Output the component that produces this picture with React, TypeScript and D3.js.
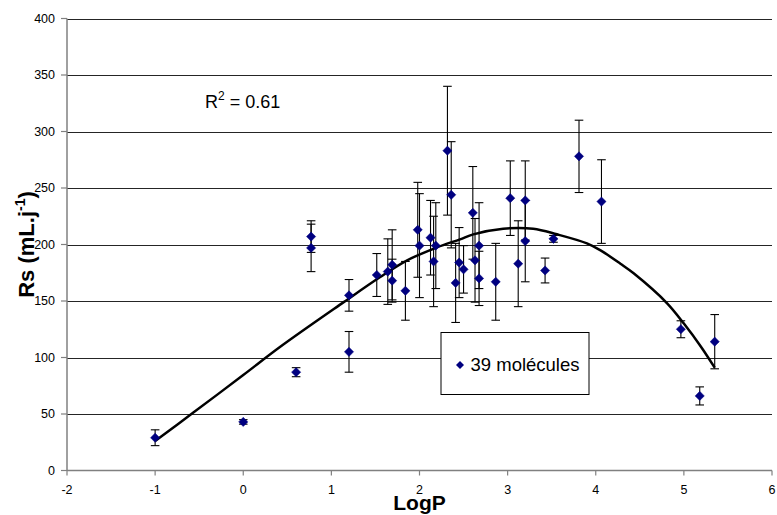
import React from "react";
import * as d3 from "d3";

const logP = [-1.0, 0.0, 0.6, 0.77, 0.77, 1.2, 1.2, 1.515, 1.64, 1.69, 1.69, 1.84, 1.98, 2.0, 2.125, 2.16, 2.185, 2.317, 2.36, 2.41, 2.45, 2.5, 2.605, 2.63, 2.676, 2.676, 2.865, 3.03, 3.12, 3.2, 3.2, 3.425, 3.52, 3.81, 4.065, 4.966, 5.18, 5.35];
const rsValues = [29, 43, 87, 207, 197, 155, 105, 173, 176, 182, 168, 159, 213, 199, 206, 185, 199, 283, 244, 166, 184, 178, 228, 186, 199, 170, 167, 241, 183, 239, 203, 177, 205, 278, 238, 125, 66, 114];
const rsErrors = [7, 2, 4, 14, 21, 14, 18, 19, 29, 31, 19, 26, 42, 46, 33, 40, 38, 57, 47, 35, 31, 21, 41, 37, 38, 24, 34, 33, 38, 35, 36, 11, 3, 32, 37, 7.5, 8, 24];

const trendX = [-1.0, -0.57, 0.0, 0.42, 1.14, 1.55, 1.86, 2.2, 2.46, 2.61, 2.95, 3.29, 3.56, 3.9, 4.05, 4.28, 4.43, 4.81, 5.0, 5.19, 5.35];
const trendY = [26, 51, 84.5, 109.5, 149, 171, 186, 197.5, 204.6, 209, 214, 214, 209, 201, 195, 183, 174.5, 148, 130, 110, 91];

const xTicks = [-2, -1, 0, 1, 2, 3, 4, 5, 6];
const yTicks = [0, 50, 100, 150, 200, 250, 300, 350, 400];

const FONT = "'Liberation Sans', Arial, Helvetica, sans-serif";

export default function App() {
  const W = 777, H = 515;
  const x = d3.scaleLinear().domain([-2, 6]).range([67, 772]);
  const y = d3.scaleLinear().domain([0, 400]).range([470.5, 18.5]);

  const line = d3
    .line<number>()
    .x((_, i) => x(trendX[i]))
    .y((d) => y(d))
    .curve(d3.curveCatmullRom.alpha(0.5));

  const diamond = (cx: number, cy: number, r: number) =>
    `M${cx},${cy - r}L${cx + r},${cy}L${cx},${cy + r}L${cx - r},${cy}Z`;

  const capW = 4.3;

  return (
    <div style={{ position: "absolute", left: 0, top: 0 }}>
      <svg width={W} height={H} style={{ display: "block", background: "#fff" }} fontFamily={FONT}>
        {/* gridlines */}
        {yTicks.filter((t) => t > 0).map((t) => (
          <line key={"g" + t} x1={x(-2)} x2={x(6)} y1={Math.round(y(t)) + 0.5} y2={Math.round(y(t)) + 0.5}
            stroke="#000" strokeWidth={1} opacity={0.85} />
        ))}
        {/* axes */}
        <line x1={x(-2)} x2={x(-2)} y1={y(400)} y2={y(0)} stroke="#808080" strokeWidth={1.5} />
        <line x1={x(-2)} x2={x(6)} y1={y(0)} y2={y(0)} stroke="#808080" strokeWidth={1.5} />
        {yTicks.map((t) => (
          <g key={"yt" + t}>
            <line x1={x(-2) - 6} x2={x(-2)} y1={y(t)} y2={y(t)} stroke="#808080" strokeWidth={1.2} />
            <text x={55} y={y(t)} dy="0.35em" textAnchor="end" fontSize={12.5} fill="#000">{t}</text>
          </g>
        ))}
        {xTicks.map((t) => (
          <g key={"xt" + t}>
            <line x1={x(t)} x2={x(t)} y1={y(0)} y2={y(0) + 5} stroke="#808080" strokeWidth={1.2} />
            <text x={x(t)} y={494} textAnchor="middle" fontSize={12.5} fill="#000">{t}</text>
          </g>
        ))}
        {/* axis titles */}
        <text x={419.5} y={510} textAnchor="middle" fontSize={21} fontWeight="bold" fill="#000">LogP</text>
        <text transform={`translate(34,${244.5}) rotate(-90)`} textAnchor="middle" fontSize={22} fontWeight="bold" fill="#000">
          Rs (mL.j<tspan fontSize={14} dy={-9}>-1</tspan><tspan dy={9}>)</tspan>
        </text>
        {/* R2 */}
        <text x={205} y={108} fontSize={18} fill="#000">
          R<tspan fontSize={12} dy={-8}>2</tspan><tspan dy={8}> = 0.61</tspan>
        </text>
        {/* trend curve */}
        <path d={line(trendY) || ""} fill="none" stroke="#000" strokeWidth={2.5} strokeLinejoin="round" />
        {/* error bars */}
        {logP.map((lp, i) => {
          const cx = x(lp);
          const top = y(rsValues[i] + rsErrors[i]);
          const bot = y(rsValues[i] - rsErrors[i]);
          return (
            <g key={"e" + i} stroke="#000" strokeWidth={1.1}>
              <line x1={cx} x2={cx} y1={top} y2={bot} />
              <line x1={cx - capW} x2={cx + capW} y1={top} y2={top} />
              <line x1={cx - capW} x2={cx + capW} y1={bot} y2={bot} />
            </g>
          );
        })}
        {/* markers */}
        {logP.map((lp, i) => (
          <path key={"m" + i} d={diamond(x(lp), y(rsValues[i]), 4.6)} fill="#000080" stroke="#000080" strokeWidth={0.5} />
        ))}
        {/* legend */}
        <rect x={441} y={332.5} width={148} height={62} fill="#fff" stroke="#000" strokeWidth={1} />
        <path d={diamond(460, 365, 4)} fill="#000080" />
        <text x={470.5} y={371} fontSize={18.5} fill="#000">39 molécules</text>
      </svg>
    </div>
  );
}
